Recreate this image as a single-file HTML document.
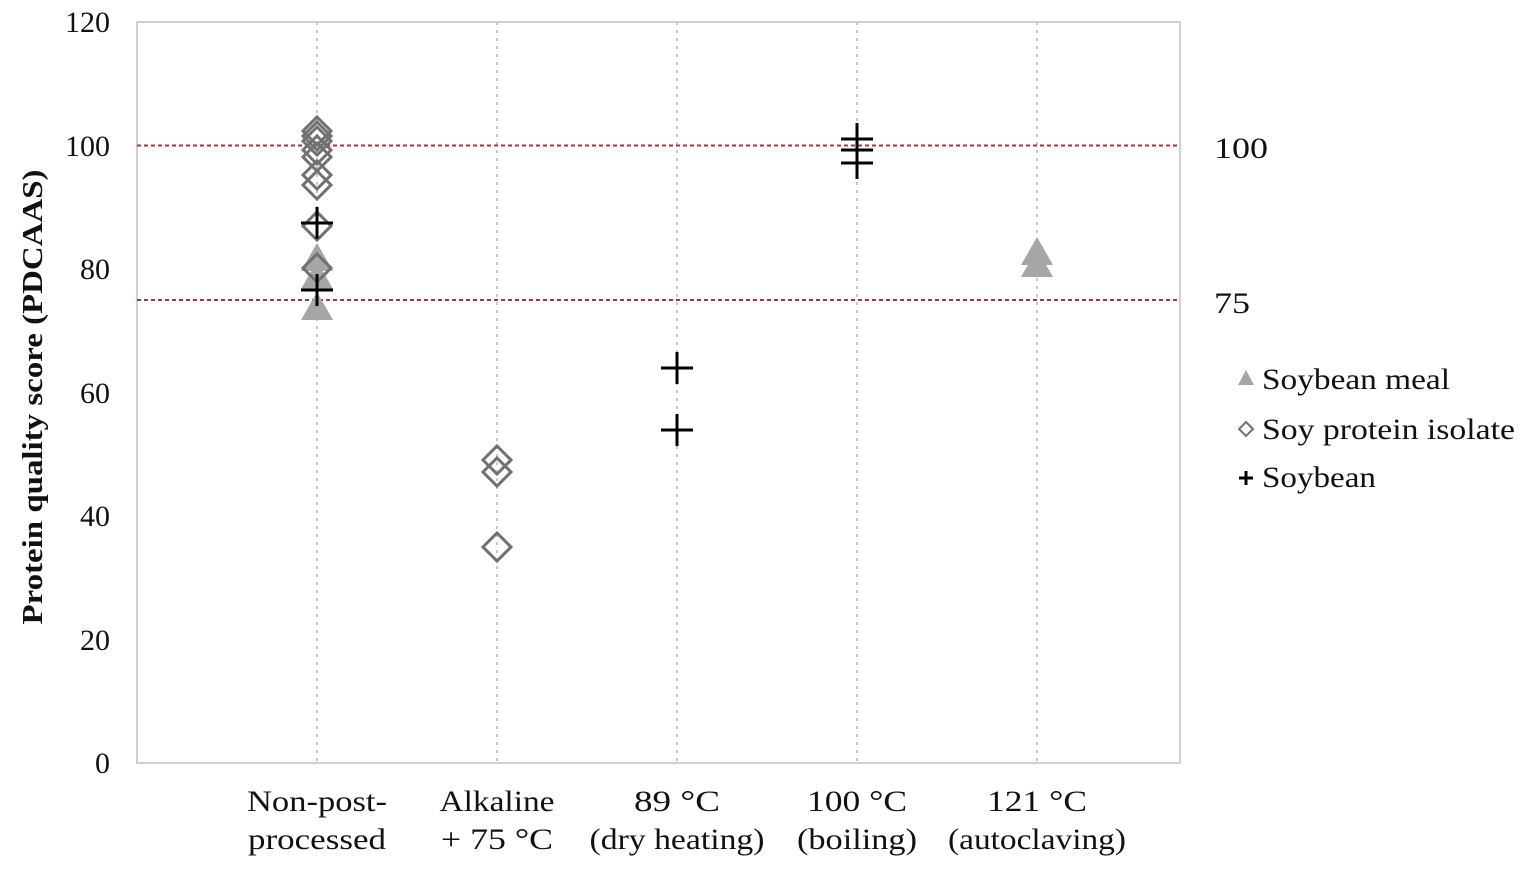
<!DOCTYPE html>
<html><head><meta charset="utf-8"><style>
html,body{margin:0;padding:0;background:#fff;}
svg{display:block;}
text{font-family:"Liberation Serif",serif;fill:#111;}
</style></head><body>
<svg width="1535" height="880" viewBox="0 0 1535 880" xmlns="http://www.w3.org/2000/svg">
<defs>
<polygon id="tri" points="0,-15 16,13 -16,13" fill="#a6a6a6"/>
<polygon id="dia" points="0,-14 14,0 0,14 -14,0" fill="none" stroke="#707070" stroke-width="3"/>
<g id="plus" stroke="#000" stroke-width="3"><line x1="-16" y1="0" x2="16" y2="0"/><line x1="0" y1="-16" x2="0" y2="16"/></g>
</defs>
<rect x="137" y="22" width="1043" height="741" fill="none" stroke="#d0d0d0" stroke-width="2"/>
<g stroke="#c8c8c8" stroke-width="2" stroke-dasharray="3,5">
<line x1="317" y1="22" x2="317" y2="763"/>
<line x1="497" y1="22" x2="497" y2="763"/>
<line x1="677" y1="22" x2="677" y2="763"/>
<line x1="857" y1="22" x2="857" y2="763"/>
<line x1="1037" y1="22" x2="1037" y2="763"/>
</g>
<g stroke="#b0333a" stroke-width="2" stroke-dasharray="4,3">
<line x1="137" y1="145.5" x2="1180" y2="145.5"/>
<line x1="137" y1="300" x2="1180" y2="300"/>
</g>
<g font-size="30" text-anchor="end">
<text x="110" y="32">120</text>
<text x="110" y="156">100</text>
<text x="110" y="279">80</text>
<text x="110" y="403">60</text>
<text x="110" y="526">40</text>
<text x="110" y="650">20</text>
<text x="110" y="773">0</text>
</g>
<text font-size="30" x="1214" y="158" textLength="54" lengthAdjust="spacingAndGlyphs">100</text>
<text font-size="30" x="1214" y="313" textLength="36" lengthAdjust="spacingAndGlyphs">75</text>
<text font-size="28" font-weight="bold" text-anchor="middle" transform="translate(42,397) rotate(-90)" textLength="455" lengthAdjust="spacingAndGlyphs">Protein quality score (PDCAAS)</text>
<g font-size="30" text-anchor="middle">
<text x="317" y="811" textLength="140" lengthAdjust="spacingAndGlyphs">Non-post-</text><text x="317" y="849" textLength="138" lengthAdjust="spacingAndGlyphs">processed</text>
<text x="497" y="811" textLength="115" lengthAdjust="spacingAndGlyphs">Alkaline</text><text x="497" y="849" textLength="112" lengthAdjust="spacingAndGlyphs">+ 75 °C</text>
<text x="677" y="811" textLength="86" lengthAdjust="spacingAndGlyphs">89 °C</text><text x="677" y="849" textLength="175" lengthAdjust="spacingAndGlyphs">(dry heating)</text>
<text x="857" y="811" textLength="100" lengthAdjust="spacingAndGlyphs">100 °C</text><text x="857" y="849" textLength="120" lengthAdjust="spacingAndGlyphs">(boiling)</text>
<text x="1037" y="811" textLength="100" lengthAdjust="spacingAndGlyphs">121 °C</text><text x="1037" y="849" textLength="178" lengthAdjust="spacingAndGlyphs">(autoclaving)</text>
</g>
<use href="#tri" x="317" y="258"/>
<use href="#tri" x="317" y="276"/>
<use href="#tri" x="317" y="307"/>
<use href="#tri" x="1037" y="252"/>
<use href="#tri" x="1037" y="264"/>
<use href="#dia" x="317" y="131"/>
<use href="#dia" x="317" y="136"/>
<use href="#dia" x="317" y="141"/>
<use href="#dia" x="317" y="150"/>
<use href="#dia" x="317" y="157"/>
<use href="#dia" x="317" y="175"/>
<use href="#dia" x="317" y="185"/>
<use href="#dia" x="317" y="226"/>
<use href="#dia" x="317" y="268"/>
<use href="#dia" x="497" y="460"/>
<use href="#dia" x="497" y="472"/>
<use href="#dia" x="497" y="547"/>
<use href="#plus" x="317" y="223"/>
<use href="#plus" x="317" y="290"/>
<use href="#plus" x="677" y="368"/>
<use href="#plus" x="677" y="430"/>
<use href="#plus" x="857" y="139"/>
<use href="#plus" x="857" y="150"/>
<use href="#plus" x="857" y="163"/>
<polygon points="1246,370 1254,385 1238,385" fill="#a6a6a6"/>
<text font-size="30" x="1262" y="389" textLength="188" lengthAdjust="spacingAndGlyphs">Soybean meal</text>
<polygon points="1246,422 1253,429 1246,436 1239,429" fill="none" stroke="#707070" stroke-width="2"/>
<text font-size="30" x="1262" y="439" textLength="253" lengthAdjust="spacingAndGlyphs">Soy protein isolate</text>
<g stroke="#000" stroke-width="3"><line x1="1239" y1="478" x2="1253" y2="478"/><line x1="1246" y1="471" x2="1246" y2="485"/></g>
<text font-size="30" x="1262" y="487" textLength="114" lengthAdjust="spacingAndGlyphs">Soybean</text>
</svg>
</body></html>
